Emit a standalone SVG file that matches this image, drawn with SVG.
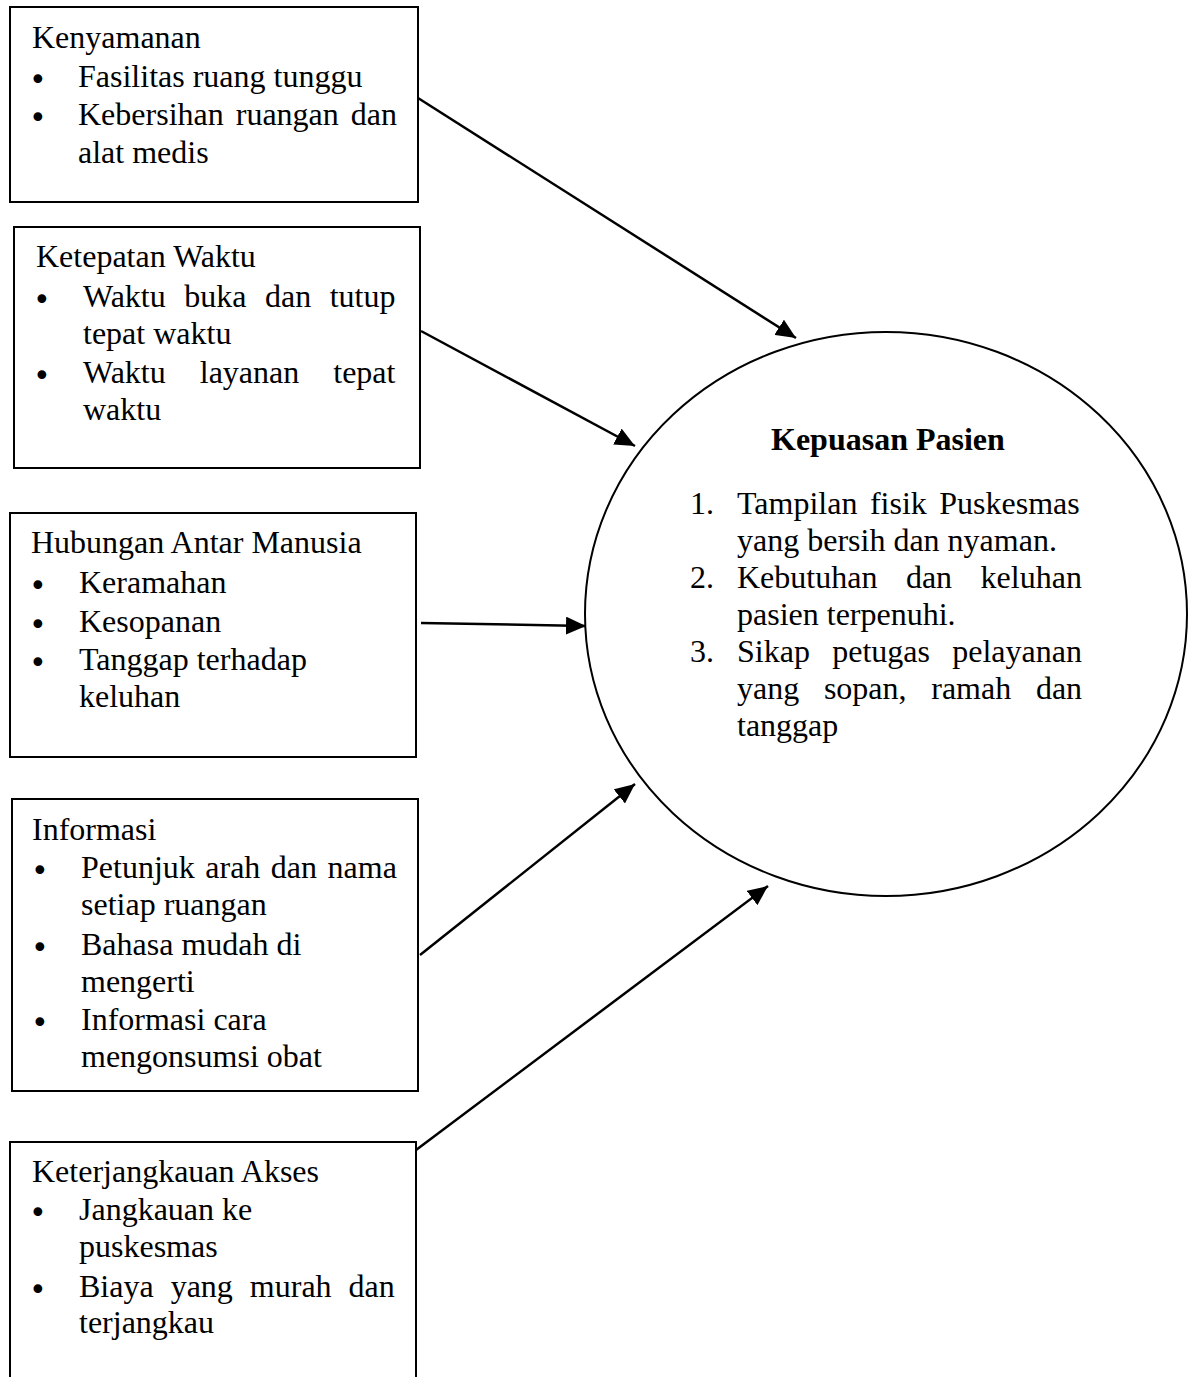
<svg xmlns="http://www.w3.org/2000/svg" width="1197" height="1377" viewBox="0 0 1197 1377">
<style>
.box{fill:#fff;stroke:#000;stroke-width:2}
.t{font-family:"Liberation Serif","Times New Roman",serif;font-size:32px;fill:#000}
.bu{font-family:"DejaVu Sans",sans-serif;font-size:30px;fill:#000}
.b{font-weight:bold}
.conn{stroke:#000;stroke-width:2.5;fill:none}
</style>
<defs>
<marker id="ah" markerUnits="userSpaceOnUse" markerWidth="22" markerHeight="18" refX="20" refY="9" orient="auto">
<path d="M0,0 L20,9 L0,18 z" fill="#000"/>
</marker>
</defs>
<rect width="1197" height="1377" fill="#fff"/>

<g id="kenyamanan">
<rect class="box" x="10" y="7" width="408" height="195"/>
<text class="t" x="32" y="48">Kenyamanan</text>
<text class="bu" x="29" y="90">•</text>
<text class="t" x="78" y="87">Fasilitas ruang tunggu</text>
<text class="bu" x="29" y="128">•</text>
<text class="t" x="78" y="125" word-spacing="4">Kebersihan ruangan dan</text>
<text class="t" x="78" y="163">alat medis</text>
</g>

<g id="ketepatan">
<rect class="box" x="14" y="227" width="406" height="241"/>
<text class="t" x="36" y="267">Ketepatan Waktu</text>
<text class="bu" x="33" y="310">•</text>
<text class="t" x="83" y="307" word-spacing="10.5">Waktu buka dan tutup</text>
<text class="t" x="83" y="344">tepat waktu</text>
<text class="bu" x="33" y="386">•</text>
<text class="t" x="83" y="383" word-spacing="26">Waktu layanan tepat</text>
<text class="t" x="83" y="420">waktu</text>
</g>

<g id="hubungan">
<rect class="box" x="10" y="513" width="406" height="244"/>
<text class="t" x="31" y="553">Hubungan Antar Manusia</text>
<text class="bu" x="29" y="596">•</text>
<text class="t" x="79" y="593">Keramahan</text>
<text class="bu" x="29" y="635">•</text>
<text class="t" x="79" y="632">Kesopanan</text>
<text class="bu" x="29" y="673">•</text>
<text class="t" x="79" y="670">Tanggap terhadap</text>
<text class="t" x="79" y="707">keluhan</text>
</g>

<g id="informasi">
<rect class="box" x="12" y="799" width="406" height="292"/>
<text class="t" x="32" y="840">Informasi</text>
<text class="bu" x="31" y="881">•</text>
<text class="t" x="81" y="878" word-spacing="2.5">Petunjuk arah dan nama</text>
<text class="t" x="81" y="915">setiap ruangan</text>
<text class="bu" x="31" y="958">•</text>
<text class="t" x="81" y="955">Bahasa mudah di</text>
<text class="t" x="81" y="992">mengerti</text>
<text class="bu" x="31" y="1033">•</text>
<text class="t" x="81" y="1030">Informasi cara</text>
<text class="t" x="81" y="1067">mengonsumsi obat</text>
</g>

<g id="keterjangkauan">
<path class="box" d="M10,1378 L10,1142 L416,1142 L416,1378"/>
<text class="t" x="32" y="1182">Keterjangkauan Akses</text>
<text class="bu" x="29" y="1223">•</text>
<text class="t" x="79" y="1220">Jangkauan ke</text>
<text class="t" x="79" y="1257">puskesmas</text>
<text class="bu" x="29" y="1300">•</text>
<text class="t" x="79" y="1297" word-spacing="9">Biaya yang murah dan</text>
<text class="t" x="79" y="1333">terjangkau</text>
</g>

<g id="kepuasan">
<ellipse class="box" cx="886" cy="614" rx="301" ry="282"/>
<text class="t b" x="771" y="450">Kepuasan Pasien</text>
<text class="t" x="690" y="514">1.</text>
<text class="t" x="737" y="514" word-spacing="4.5">Tampilan fisik Puskesmas</text>
<text class="t" x="737" y="551">yang bersih dan nyaman.</text>
<text class="t" x="690" y="588">2.</text>
<text class="t" x="737" y="588" word-spacing="20.5">Kebutuhan dan keluhan</text>
<text class="t" x="737" y="625">pasien terpenuhi.</text>
<text class="t" x="690" y="662">3.</text>
<text class="t" x="737" y="662" word-spacing="14.3">Sikap petugas pelayanan</text>
<text class="t" x="737" y="699" word-spacing="16.7">yang sopan, ramah dan</text>
<text class="t" x="737" y="736">tanggap</text>
</g>

<g id="connectors">
<line class="conn" x1="418" y1="98" x2="796" y2="338" marker-end="url(#ah)"/>
<line class="conn" x1="421" y1="331" x2="635" y2="446" marker-end="url(#ah)"/>
<line class="conn" x1="421" y1="623" x2="586" y2="626" marker-end="url(#ah)"/>
<line class="conn" x1="420" y1="955" x2="635" y2="784" marker-end="url(#ah)"/>
<line class="conn" x1="416" y1="1150" x2="768" y2="886" marker-end="url(#ah)"/>
</g>
</svg>
